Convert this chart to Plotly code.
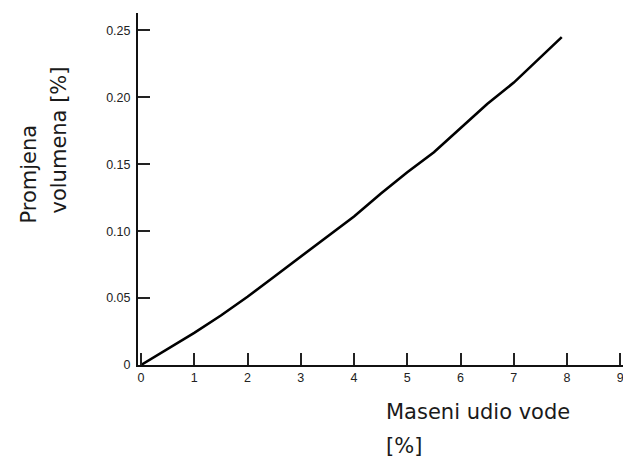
import plotly.graph_objects as go

# Data
water_pct = [0, 0.5, 1, 1.5, 2, 2.5, 3, 3.5, 4, 4.5, 5, 5.5, 6, 6.5, 7, 7.5, 7.9]
volume_change = [0, 0.012, 0.024, 0.037, 0.051, 0.066, 0.081, 0.096, 0.111,
                 0.128, 0.144, 0.159, 0.177, 0.195, 0.211, 0.230, 0.245]

x_ticks = [0, 1, 2, 3, 4, 5, 6, 7, 8, 9]
x_ticklabels = ["0", "1", "2", "3", "4", "5", "6", "7", "8", "9"]
y_ticks = [0, 0.05, 0.10, 0.15, 0.20, 0.25]
y_ticklabels = ["0", "0.05", "0.10", "0.15", "0.20", "0.25"]

W, H = 623, 461
L, R, T, B = 138, 0, 13, 96
pw, ph = W - L - R, H - T - B

fig = go.Figure()
fig.add_trace(go.Scatter(x=water_pct, y=volume_change, mode="lines",
                         line=dict(color="black", width=2.6),
                         showlegend=False, hoverinfo="skip"))

tickfont = dict(family="Liberation Sans, Arial", size=12.5, color="#222222")
fig.update_layout(
    width=W, height=H,
    margin=dict(l=L, r=R, t=T, b=B, autoexpand=False),
    paper_bgcolor="white", plot_bgcolor="white",
    xaxis=dict(range=[-0.056, 9.05], tickvals=x_ticks, ticktext=x_ticklabels,
               ticks="inside", ticklen=12, tickwidth=1.5, tickcolor="#222",
               showline=True, linecolor="#111", linewidth=2, automargin=False,
               ticklabeloverflow="allow",
               showgrid=False, zeroline=False, tickfont=tickfont),
    yaxis=dict(range=[0, 0.263], tickvals=y_ticks, ticktext=y_ticklabels,
               ticks="inside", ticklen=12, tickwidth=1.5, tickcolor="#222",
               showline=True, linecolor="#111", linewidth=2, automargin=False,
               ticklabeloverflow="allow", ticklabelstandoff=3,
               showgrid=False, zeroline=False, tickfont=tickfont),
)

def px(x):
    return (x - L) / pw

def py(y):
    return (T + ph - y) / ph

titlefont = dict(family="DejaVu Sans", size=21, color="#1a1a1a")
fig.add_annotation(text="Promjena", x=px(28), y=py(226), xref="paper", yref="paper",
                   textangle=-90, showarrow=False, font=titlefont,
                   xanchor="center", yanchor="bottom")
fig.add_annotation(text="volumena [%]", x=px(58), y=py(216), xref="paper", yref="paper",
                   textangle=-90, showarrow=False, font=titlefont,
                   xanchor="center", yanchor="bottom")
fig.add_annotation(text="Maseni udio vode", x=px(384), y=py(412), xref="paper", yref="paper",
                   showarrow=False, font=titlefont, xanchor="left", yanchor="middle")
fig.add_annotation(text="[%]", x=px(384), y=py(446), xref="paper", yref="paper",
                   showarrow=False, font=titlefont, xanchor="left", yanchor="middle")

fig.write_html("out.html", config={"displayModeBar": False},
               post_script="document.body.style.margin='0';document.body.style.overflow='hidden';")
